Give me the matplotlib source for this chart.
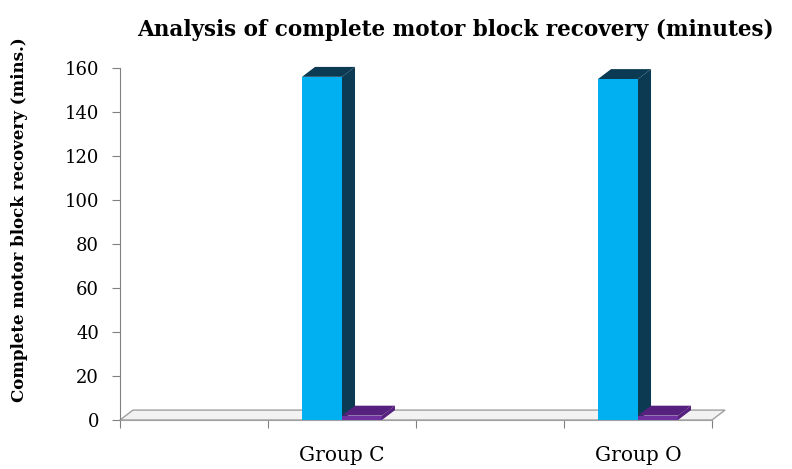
import numpy as np
import matplotlib.pyplot as plt
from matplotlib.patches import Polygon

# Category slots (the 1st and 3rd are empty spacers)
categories = ["", "Group C", "", "Group O"]
blue_vals = [0, 156, 0, 155]
purple_vals = [0, 2, 0, 2]

plt.rcParams['font.family'] = ['DejaVu Serif']

fig = plt.figure(figsize=(7.92, 4.69), dpi=100)
ax = fig.add_axes([0.1515, 0.1045, 0.7475, 0.7505])

n = len(categories)
x = np.arange(n) + 0.5
w = 0.27
dx, dy = 0.088, 4.5  # depth offset for the 3D look

blue_front, blue_dark = "#00B0F0", "#0B3A52"
purple_front, purple_dark = "#7030A0", "#55207E"

# floor
floor = Polygon([(0, 0), (dx, dy), (n + dx, dy), (n, 0)], closed=True,
                facecolor="#F2F2F2", edgecolor="#A0A0A0", lw=1, zorder=1, clip_on=False)
ax.add_patch(floor)


def bar3d(x0, val, color, dark):
    x1 = x0 + w
    ax.bar(x0, val, width=w, align='edge', color=color, zorder=3, clip_on=False)
    top = Polygon([(x0, val), (x0 + dx, val + dy), (x1 + dx, val + dy), (x1, val)],
                  closed=True, facecolor=dark, edgecolor='none', zorder=3, clip_on=False)
    side = Polygon([(x1, 0), (x1 + dx, dy), (x1 + dx, val + dy), (x1, val)],
                   closed=True, facecolor=dark, edgecolor='none', zorder=3, clip_on=False)
    ax.add_patch(top)
    ax.add_patch(side)


for i in range(n):
    if blue_vals[i] > 0:
        bar3d(x[i] - w, blue_vals[i], blue_front, blue_dark)
    if purple_vals[i] > 0:
        bar3d(x[i], purple_vals[i], purple_front, purple_dark)

ax.set_xlim(0, n)
ax.set_ylim(0, 160)
ax.set_yticks(np.arange(0, 161, 20))
ax.set_xticks(np.arange(0, n + 1))
ax.set_xticklabels([])
ax.set_xticks(x, minor=True)
ax.set_xticklabels(categories, minor=True)
ax.tick_params(axis='x', which='minor', length=0, pad=19, labelsize=14.5)
ax.tick_params(axis='x', which='major', length=6, color="#808080", direction='out')
ax.tick_params(axis='y', length=6, color="#808080", labelsize=13, pad=9)

for s in ['top', 'right']:
    ax.spines[s].set_visible(False)
ax.spines['left'].set_color("#808080")
ax.spines['bottom'].set_color("#A0A0A0")

ax.set_ylabel("Complete motor block recovery (mins.)", fontsize=12, fontweight='bold')
ax.yaxis.set_label_coords(-0.155, 0.568)
fig.text(0.575, 0.936, "Analysis of complete motor block recovery (minutes)",
         ha='center', va='center', fontsize=15.5, fontweight='bold')

fig.savefig("out.png", dpi=100)
